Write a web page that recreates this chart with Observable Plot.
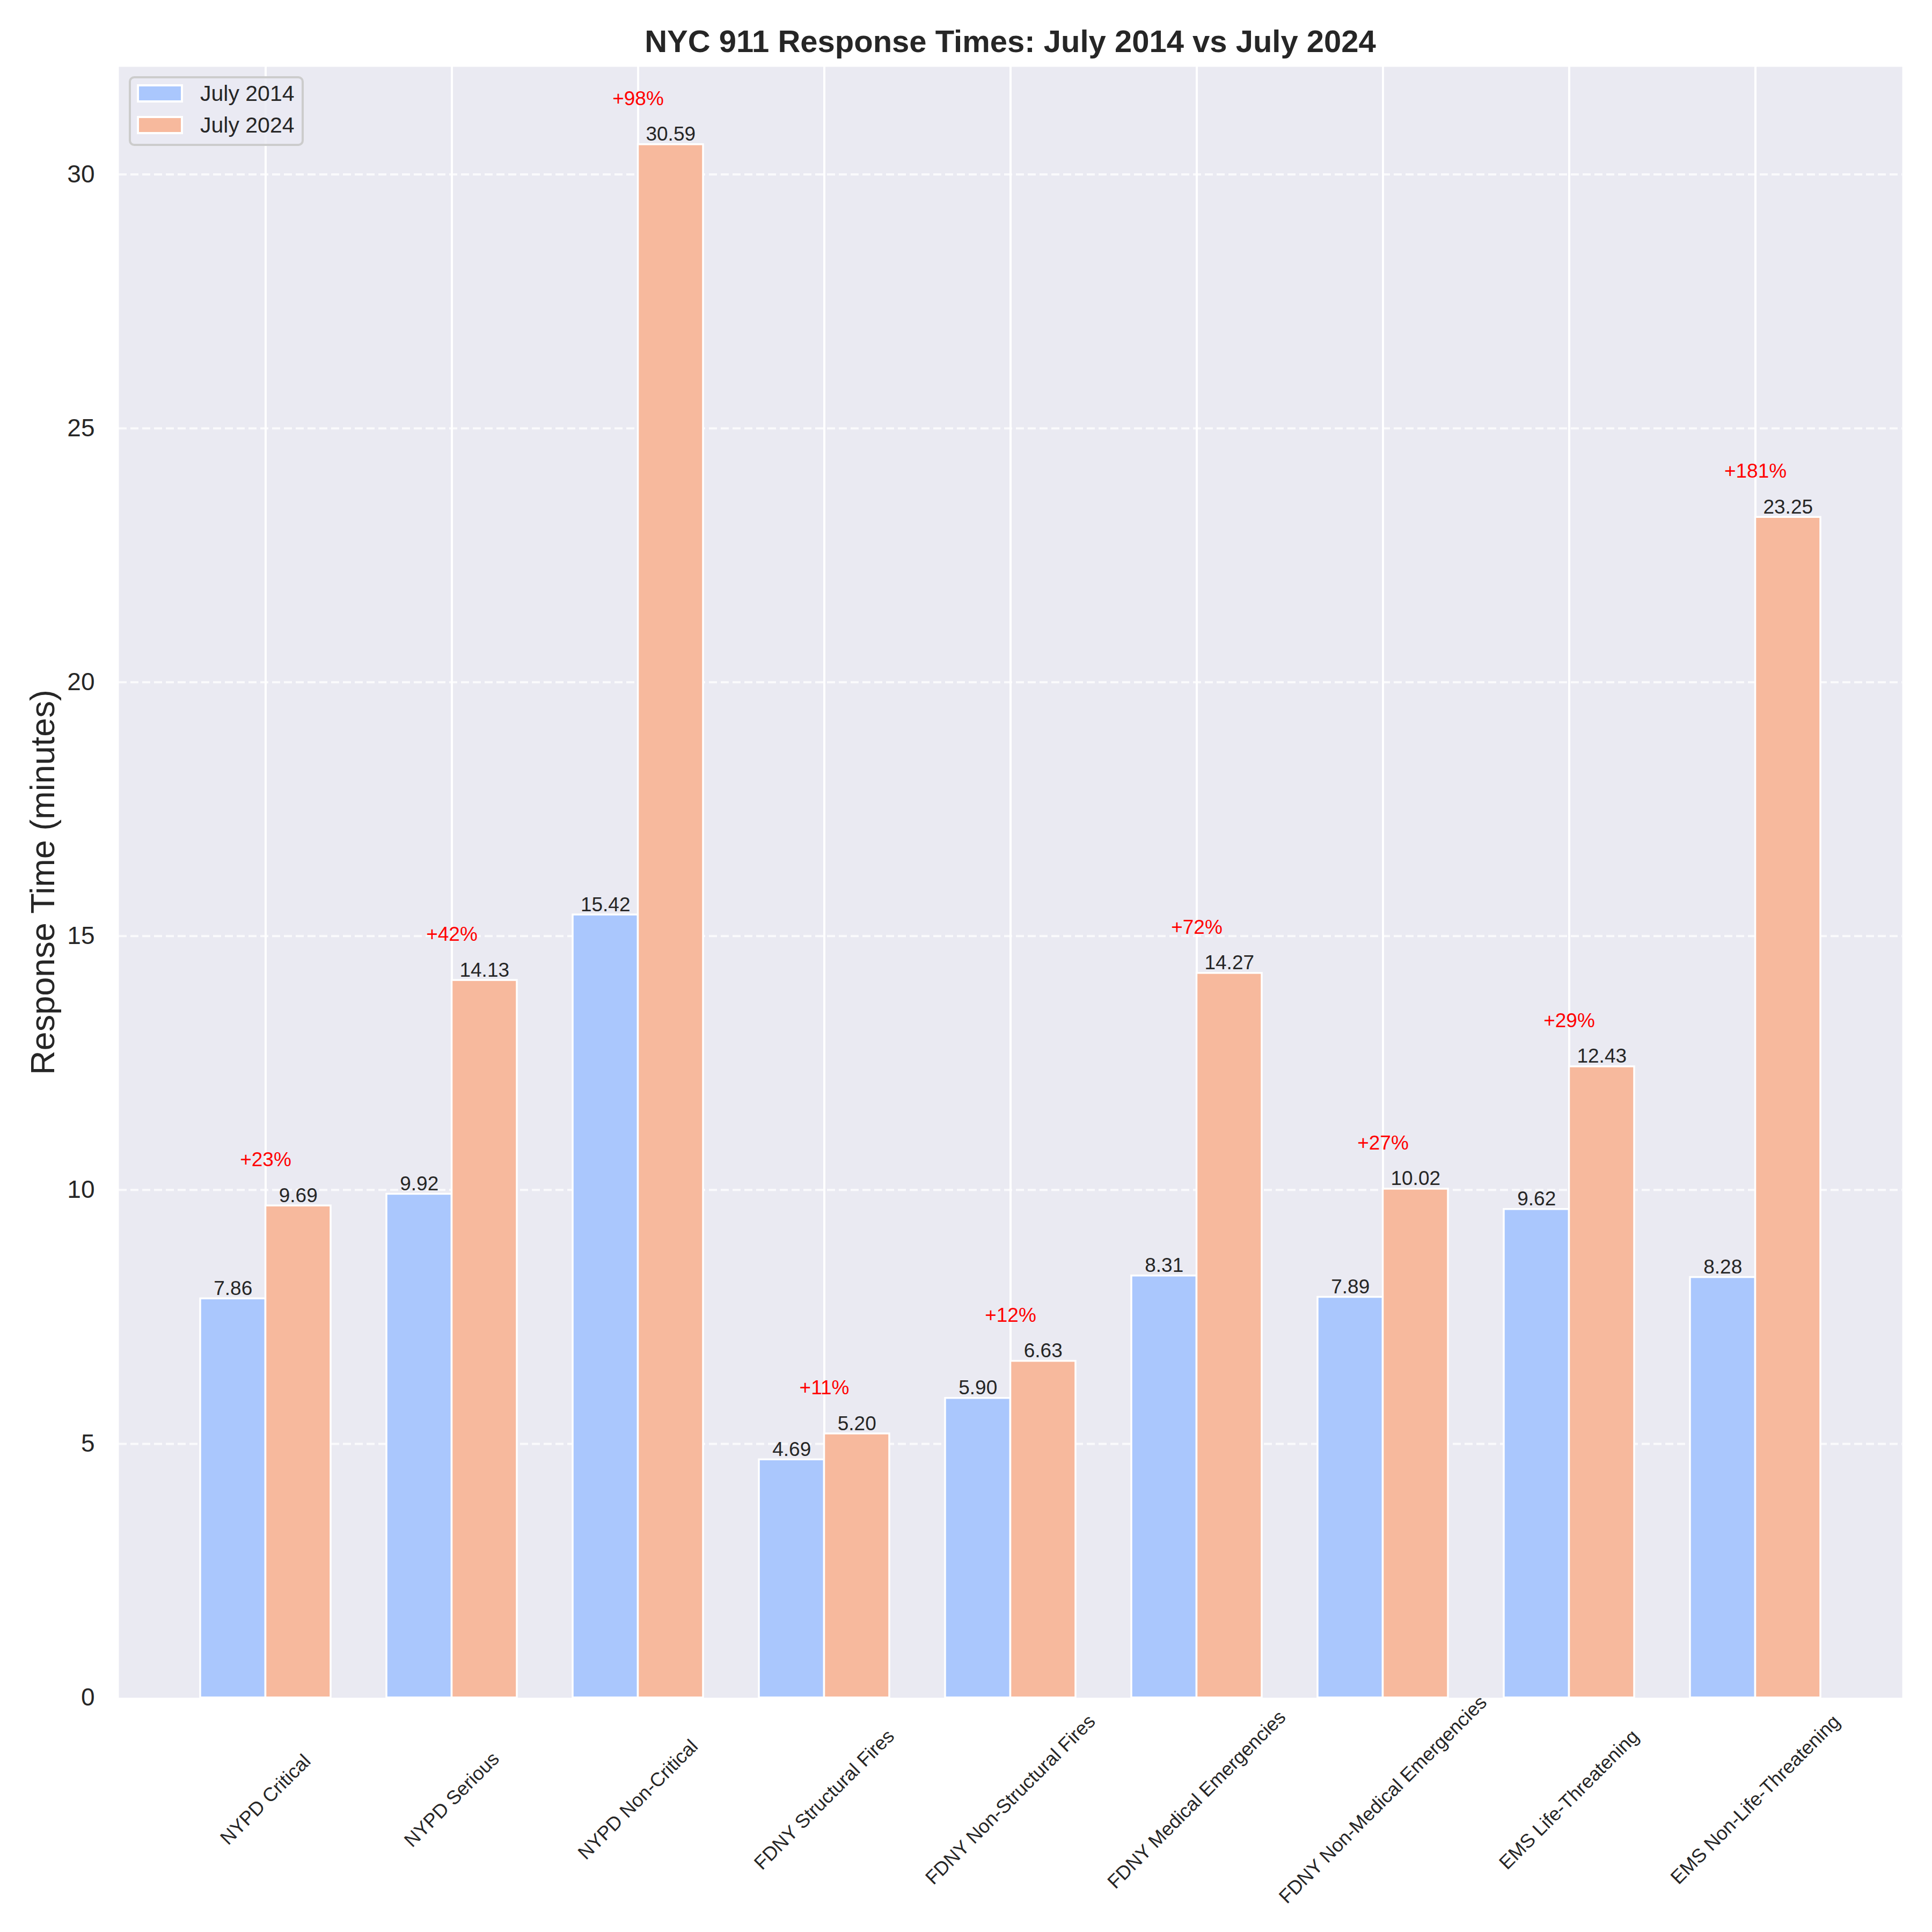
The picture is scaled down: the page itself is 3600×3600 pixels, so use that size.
<!DOCTYPE html>
<html>
<head>
<meta charset="utf-8">
<script src="https://cdn.jsdelivr.net/npm/d3@7"></script>
<script src="https://cdn.jsdelivr.net/npm/@observablehq/plot@0.6"></script>
<style>
  body { margin: 0; background: #ffffff; }
  #wrap { position: relative; width: 3600px; height: 3600px; font-family: "Liberation Sans", Arial, sans-serif; color: #262626; background: #fff; }
  #title { position: relative; height: 104px; }
  #title span { position: absolute; left: 221px; width: 3323px; top: 48px; text-align: center; font-size: 58px; line-height: 58px; font-weight: bold; color: #262626; white-space: nowrap; }
  #legend { position: absolute; left: 240px; top: 142px; width: 326px; height: 130px; box-sizing: border-box; border: 4px solid #cccccc; border-radius: 10px; background: rgba(234,234,242,0.8); }
  .patch { position: absolute; left: 11px; width: 86px; height: 34px; box-sizing: border-box; border: 4px solid #ffffff; }
  .ltext { position: absolute; left: 129px; font-size: 41px; line-height: 41px; color: #262626; white-space: nowrap; }
  svg { display: block; }
</style>
</head>
<body>
<div id="wrap">
  <div id="title"><span></span></div>
  <div id="chart"></div>
  <div id="legend"></div>
</div>
<script>
// ---- data ----
const categories = [
  "NYPD Critical", "NYPD Serious", "NYPD Non-Critical",
  "FDNY Structural Fires", "FDNY Non-Structural Fires", "FDNY Medical Emergencies",
  "FDNY Non-Medical Emergencies", "EMS Life-Threatening", "EMS Non-Life-Threatening"
];
const values2014 = [7.86, 9.92, 15.42, 4.69, 5.90, 8.31, 7.89, 9.62, 8.28];
const values2024 = [9.69, 14.13, 30.59, 5.20, 6.63, 14.27, 10.02, 12.43, 23.25];
const changeLabels = ["+23%", "+42%", "+98%", "+11%", "+12%", "+72%", "+27%", "+29%", "+181%"];
const seriesNames = ["July 2014", "July 2024"];
const seriesColors = ["#aac7fd", "#f7b99d"];
const yTicks = [0, 5, 10, 15, 20, 25, 30];
const titleText = "NYC 911 Response Times: July 2014 vs July 2024";
const yLabel = "Response Time (minutes)";

// ---- layout ----
const W = 3600, H = 3496;
const mL = 221, mR = 56, mT = 20, mB = 437;
const pIn = 0.3, pOut = 0.435;
const step = (W - mL - mR) / (categories.length - pIn + 2 * pOut);
const half = step * (1 - pIn) / 2;
const font = "'Liberation Sans', Arial, sans-serif";
const ink = "#262626";

const d14 = categories.map((c, i) => ({cat: c, v: values2014[i]}));
const d24 = categories.map((c, i) => ({cat: c, v: values2024[i]}));
const dPct = categories.map((c, i) => ({cat: c, top: Math.max(values2014[i], values2024[i]), label: changeLabels[i]}));

const chart = Plot.plot({
  width: W, height: H,
  marginLeft: mL, marginRight: mR, marginTop: mT, marginBottom: mB,
  style: {fontFamily: font, background: "white", color: ink, overflow: "visible"},
  x: {type: "band", domain: categories, paddingInner: pIn, paddingOuter: pOut, align: 0.5, axis: null},
  y: {domain: [0, 32.12], axis: null},
  marks: [
    Plot.frame({fill: "#eaeaf2", stroke: null}),
    Plot.ruleY(yTicks.filter(t => t > 0), {y: d => d, stroke: "white", strokeOpacity: 0.75, strokeWidth: 4, strokeDasharray: "15,7"}),
    Plot.ruleX(categories, {x: d => d, stroke: "white", strokeWidth: 4}),
    Plot.barY(d14, {x: "cat", y: "v", fill: seriesColors[0], stroke: "white", strokeWidth: 3.5, insetRight: half}),
    Plot.barY(d24, {x: "cat", y: "v", fill: seriesColors[1], stroke: "white", strokeWidth: 3.5, insetLeft: half}),
    Plot.text(d14, {x: "cat", y: "v", text: d => d.v.toFixed(2), dx: -half / 2, dy: -7, lineAnchor: "bottom", textAnchor: "middle", fontSize: 37, fill: ink}),
    Plot.text(d24, {x: "cat", y: "v", text: d => d.v.toFixed(2), dx: half / 2, dy: -7, lineAnchor: "bottom", textAnchor: "middle", fontSize: 37, fill: ink}),
    Plot.text(dPct, {x: "cat", y: d => d.top + 0.9, text: "label", lineAnchor: "middle", textAnchor: "middle", fontSize: 37, fill: "#ff0000"}),
    Plot.axisY({ticks: yTicks, tickSize: 0, tickPadding: 45, fontSize: 46, label: null, fill: ink}),
    Plot.text(categories, {x: d => d, text: d => d, frameAnchor: "bottom", dy: 190, rotate: -45, lineAnchor: "middle", textAnchor: "middle", fontSize: 36, fill: ink}),
    Plot.text([yLabel], {text: d => d, frameAnchor: "left", dx: -141, rotate: -90, lineAnchor: "middle", textAnchor: "middle", fontSize: 63, fill: ink})
  ]
});
document.getElementById("chart").appendChild(chart);
document.querySelector("#title span").textContent = titleText;

// legend
const legend = document.getElementById("legend");
const patchTops = [11, 70], textTops = [8, 67];
seriesNames.forEach((name, i) => {
  const p = document.createElement("div");
  p.className = "patch";
  p.style.top = patchTops[i] + "px";
  p.style.background = seriesColors[i];
  legend.appendChild(p);
  const t = document.createElement("div");
  t.className = "ltext";
  t.style.top = textTops[i] + "px";
  t.textContent = name;
  legend.appendChild(t);
});
</script>
</body>
</html>
